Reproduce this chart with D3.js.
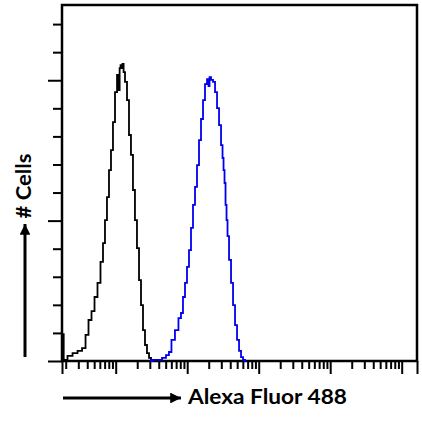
<!DOCTYPE html>
<html><head><meta charset="utf-8">
<script src="https://cdn.jsdelivr.net/npm/d3@7"></script>
<style>html,body{margin:0;padding:0;background:#fff;}svg{display:block;}</style>
</head><body>
<script>
// ---- data ----
const xDomain = [1.774, 163700];        // fluorescence axis range (log)
const yDomain = [0, 126.8];             // # cells axis range
const yTicks = [0,10,20,30,40,50,60,70,80,90,100,110,120];
const yMajorTicks = [0,50,100];
const xMajorTicks = [10,100,1000,10000,100000];

// control (black) histogram: [fluorescence, count]
const controlX = [1.80,1.95,2.30,2.70,3.17,3.61,3.97,4.37,4.82,5.30,5.84,6.43,6.86,7.31,7.80,8.32,8.87,9.46,10.1,10.8,11.2,11.5,11.9,12.2,12.7,13.1,13.9,14.9,15.8,16.9,18.0,19.2,20.5,21.9,23.3,24.9,26.5,28.3,30.2,32.2,34.4];
const controlY = [9.6,0.4,1.8,2.8,3.6,4.6,9.3,14.6,17.8,22.8,27.8,35.3,42,50.2,58.4,68,75.1,85.1,95.8,101.9,96.5,104.3,105.4,104.3,105.8,102.9,99.4,92.9,80.5,73.4,60.9,50.2,40.2,28.8,19.9,11,5.7,2.8,1.1,0.2,0];

// stained (blue) histogram: [fluorescence, count]
const stainX = [30.2,35.5,41.7,47.4,53.8,57.4,63.2,71.9,79.2,84.5,90.2,96.2,102.6,109.4,116.7,124.5,132.8,141.6,151.1,161.1,171.8,183.3,195.5,202,208.5,222.4,237.3,253.1,270,287.9,307.1,317,327.6,338,349.4,360.6,372.4,397.2,423.6,451.9,482,514,548.3,584.8,623.7,665.3];
const stainY = [0,0.4,0.4,1.1,2.1,3.2,7.5,11,15.3,17.1,22.8,27.8,33.5,39.5,47.4,55.6,62,69.8,78.7,86.2,92.9,98.6,100.4,97.9,101.1,100.1,99.4,95.8,90.1,84,76.9,72.3,68,63.4,55.6,50.2,44.5,36,27.8,19.9,12.8,7.5,3.6,1.4,0.4,0];

const xLabel = "Alexa Fluor 488";
const yLabel = "# Cells";

// ---- drawing ----
const W = 422, H = 428;
const m = {left:62, top:5, right:417, bottom:361};
const svg = d3.select("body").append("svg").attr("width",W).attr("height",H);

const x = d3.scaleLog().domain(xDomain).range([m.left, m.right]);
const y = d3.scaleLinear().domain(yDomain).range([m.bottom, m.top]);

const xAllTicks = x.ticks().filter(v => !xMajorTicks.includes(v));
const xEnds = xDomain;

function styleAxis(g){
  g.select(".domain").remove();
  g.selectAll("line").attr("stroke","#000").attr("stroke-width",2);
}

svg.append("g").attr("transform",`translate(0,${m.bottom})`)
  .call(d3.axisBottom(x).tickValues(xAllTicks).tickSize(8).tickFormat(""))
  .call(styleAxis);
svg.append("g").attr("transform",`translate(0,${m.bottom})`)
  .call(d3.axisBottom(x).tickValues(xMajorTicks.concat(xEnds)).tickSize(13).tickFormat(""))
  .call(styleAxis);

svg.append("g").attr("transform",`translate(${m.left},0)`)
  .call(d3.axisLeft(y).tickValues(yTicks.filter(v=>!yMajorTicks.includes(v))).tickSize(9).tickFormat(""))
  .call(styleAxis);
svg.append("g").attr("transform",`translate(${m.left},0)`)
  .call(d3.axisLeft(y).tickValues(yMajorTicks).tickSize(14).tickFormat(""))
  .call(styleAxis);

// frame
svg.append("rect").attr("x",m.left).attr("y",m.top)
  .attr("width",m.right-m.left).attr("height",m.bottom-m.top)
  .attr("fill","none").attr("stroke","#000").attr("stroke-width",2.5);

const line = d3.line().x(d=>x(d[0])).y(d=>y(d[1])).curve(d3.curveStep);
svg.append("path").datum(d3.zip(controlX, controlY))
  .attr("d",line).attr("fill","none").attr("stroke","#000").attr("stroke-width",1.8);
svg.append("path").datum(d3.zip(stainX, stainY))
  .attr("d",line).attr("fill","none").attr("stroke","#0000f0").attr("stroke-width",1.8);

// arrows
const defs = svg.append("defs");
defs.append("marker").attr("id","ah").attr("viewBox","0 0 10 10")
  .attr("refX",10).attr("refY",5).attr("markerWidth",3.6).attr("markerHeight",3.6)
  .attr("markerUnits","strokeWidth").attr("orient","auto")
  .append("path").attr("d","M0,0 L10,5 L0,10 Z").attr("fill","#000");

svg.append("line").attr("x1",63).attr("y1",398).attr("x2",181).attr("y2",398)
  .attr("stroke","#000").attr("stroke-width",3).attr("marker-end","url(#ah)");
svg.append("line").attr("x1",25).attr("y1",357).attr("x2",25).attr("y2",224)
  .attr("stroke","#000").attr("stroke-width",3).attr("marker-end","url(#ah)");

svg.append("text").attr("x",188).attr("y",404)
  .attr("font-family","Lato, 'Open Sans', sans-serif").attr("font-weight","bold")
  .attr("font-size",21).attr("textLength",159).attr("lengthAdjust","spacingAndGlyphs")
  .attr("fill","#000").text(xLabel);
svg.append("text").attr("transform","translate(31,186) rotate(-90)")
  .attr("text-anchor","middle")
  .attr("font-family","Lato, 'Open Sans', sans-serif").attr("font-weight","bold")
  .attr("font-size",21).attr("textLength",65).attr("lengthAdjust","spacingAndGlyphs")
  .attr("fill","#000").text(yLabel);
</script>
</body></html>
